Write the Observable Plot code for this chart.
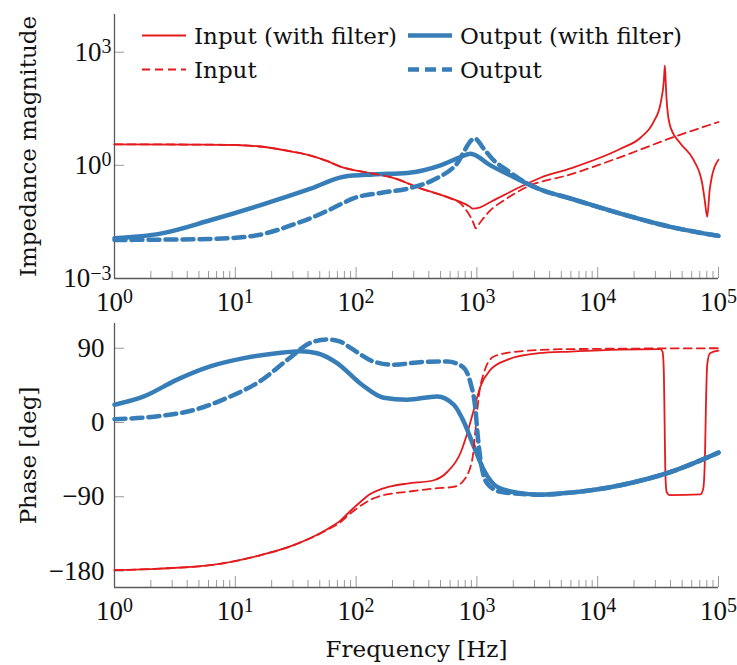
<!DOCTYPE html>
<html><head><meta charset="utf-8">
<script src="https://cdn.jsdelivr.net/npm/d3@7"></script>
<script src="https://cdn.jsdelivr.net/npm/@observablehq/plot@0.6"></script>
<style>
html,body{margin:0;padding:0;background:#fff;}
#chart{position:relative;width:737px;height:665px;overflow:hidden;}
#chart svg{display:block;}
#legend{position:absolute;left:0;top:0;pointer-events:none;}
</style></head><body><div id="chart"></div>
<script>
// ---------- data ----------
// Magnitude panel
const fMagInF = [1, 5, 10, 16, 30, 42, 58, 74, 90, 109, 150, 193, 341, 603, 885, 920, 1050, 1296, 1897, 2296, 3357, 5956, 15450, 22600, 28950, 33100, 35300, 36000, 36800, 37600, 40060, 48450, 62500, 73300, 77000, 80600, 84500, 88000, 100000];
const magInF = [3.6, 3.55, 3.47, 3.16, 2.29, 1.82, 1.29, 0.93, 0.78, 0.69, 0.575, 0.49, 0.245, 0.135, 0.078, 0.071, 0.076, 0.107, 0.20, 0.27, 0.47, 0.83, 2.75, 5.4, 14, 43, 178, 447, 100, 35, 10.2, 3.8, 1.35, 0.33, 0.117, 0.043, 0.22, 0.49, 1.41];

const fMagIn = [1, 5, 10, 16, 30, 42, 58, 74, 90, 109, 150, 193, 341, 603, 731, 832, 885, 943, 973, 1071, 1217, 1782, 2609, 5956, 15450, 40060, 100000];
const magIn = [3.6, 3.55, 3.47, 3.16, 2.29, 1.82, 1.29, 0.93, 0.78, 0.69, 0.575, 0.49, 0.245, 0.132, 0.098, 0.059, 0.043, 0.028, 0.0214, 0.0316, 0.0525, 0.135, 0.27, 0.575, 1.66, 5.25, 14.1];

const fMagOutF = [1, 2.4, 6.2, 16, 42, 79, 139, 265, 500, 731, 885, 1296, 2010, 3357, 5956, 15450, 40060, 100000];
const magOutF = [0.0117, 0.0155, 0.035, 0.087, 0.24, 0.50, 0.575, 0.63, 1.0, 1.66, 2.04, 1.0, 0.49, 0.229, 0.132, 0.0525, 0.0234, 0.0135];

const fMagOut = [1, 3, 6.2, 11.8, 16, 22, 30, 42, 58, 79, 96, 159, 265, 440, 665, 961, 1141, 1381, 1782, 2500, 3357, 5956, 15450, 40060, 100000];
const magOut = [0.0105, 0.0108, 0.0112, 0.0126, 0.0145, 0.019, 0.0269, 0.0398, 0.063, 0.102, 0.135, 0.186, 0.24, 0.417, 1.0, 5.13, 2.75, 1.35, 0.74, 0.355, 0.229, 0.132, 0.0525, 0.0234, 0.0135];

// Phase panel
const fPhInF = [1, 2.4, 6.2, 16, 30, 58, 74, 90, 109, 130, 159, 200, 265, 440, 568, 731, 832, 943, 1071, 1296, 1782, 3253, 5956, 15450, 33100, 34400, 35300, 35800, 36300, 37200, 39500, 71000, 74800, 77300, 78700, 80600, 85000, 100000];
const phInF = [-179, -177, -173, -161, -149, -129, -119, -107, -96, -87, -81, -77, -74, -70, -60, -37, -13, 15.5, 44, 64, 76, 84, 86, 88.4, 89, 86, 60, 0, -60, -84, -88, -87, -80, -40, 20, 70, 84, 87];

const fPhIn = [1, 2.4, 6.2, 16, 30, 58, 74, 90, 109, 130, 159, 200, 265, 440, 644, 779, 915, 973, 1037, 1141, 1381, 2157, 5956, 100000];
const phIn = [-179, -177, -173, -161, -149, -130, -121, -110, -101, -94, -89, -86, -84, -80, -78, -70, -45, -9, 32, 60, 80, 86, 89, 90];

const fPhOutF = [1, 1.75, 3.3, 6.2, 11.8, 22, 34.6, 47.6, 69.6, 109, 169, 265, 469, 644, 779, 943, 1141, 1472, 2157, 3357, 5956, 15450, 40060, 100000];
const phOutF = [21.5, 31.6, 52, 68, 78, 84, 86.5, 84, 72, 47, 30, 27.6, 31.6, 21.5, 1, -29, -57.5, -78, -85, -87.5, -85, -76, -60, -36.5];

const fPhOut = [1, 2.4, 4.5, 8.6, 16, 27, 42, 58, 74, 90, 139, 204, 361, 568, 755, 885, 973, 1017, 1071, 1217, 1568, 2609, 3357, 5956, 15450, 40060, 100000];
const phOut = [4, 8, 15, 30, 50, 76, 96.6, 100.6, 98, 90.5, 74, 70, 73.5, 74, 68, 48, 15.5, -17, -45, -74, -84, -87, -87.5, -85, -76, -60, -36.5];

// ticks and labels
const xMajor = [1, 10, 100, 1000, 10000, 100000];
const xMinor = [2,3,4,5,6,7,8,9,20,30,40,50,60,70,80,90,200,300,400,500,600,700,800,900,2000,3000,4000,5000,6000,7000,8000,9000,20000,30000,40000,50000,60000,70000,80000,90000];
const magTicks = [1e-3, 1, 1e3];
const phTicks = [-180, -90, 0, 90];
const seriesNames = ["Input (with filter)", "Output (with filter)", "Input", "Output"];
const yLabelMag = "Impedance magnitude";
const yLabelPh = "Phase [deg]";
const xLabel = "Frequency [Hz]";

// ---------- style ----------
const RED = "#e41a1c", BLUE = "#377eb8";
const TICK = "#9a9a9a", AXIS = "#5a5a5a";
const TXT = "DejaVu Serif", NUM = "Liberation Serif";
const W = 737, ML = 114, MR = 19;
const frameW = W - ML - MR;

const rows = (fs, vs) => fs.map((f, i) => ({f, v: vs[i]}));
const minus = s => String(s).replace("-", "\u2212");
const expFmt = d => "10^" + minus(Math.round(Math.log10(d)));

function lineMarks(a, b, c, d) {
  return [
    Plot.line(a, {x: "f", y: "v", stroke: RED, strokeWidth: 1.8, curve: "monotone-x"}),
    Plot.line(b, {x: "f", y: "v", stroke: BLUE, strokeWidth: 4.5, curve: "monotone-x"}),
    Plot.line(c, {x: "f", y: "v", stroke: RED, strokeWidth: 1.8, strokeDasharray: "8,5", curve: "monotone-x"}),
    Plot.line(d, {x: "f", y: "v", stroke: BLUE, strokeWidth: 4.5, strokeDasharray: "11,6", curve: "monotone-x"})
  ];
}

function frameMarks(frameH, yTicks, yFmt, yPad, yMin) {
  return [
    Plot.tickX(xMinor, {x: d => d, stroke: TICK, strokeWidth: 1, insetTop: frameH - 7}),
    Plot.tickX(xMajor, {x: d => d, stroke: TICK, strokeWidth: 1, insetTop: frameH - 11}),
    Plot.tickY(yTicks, {y: d => d, stroke: TICK, strokeWidth: 1, insetRight: frameW - 10}),
    Plot.ruleX([1], {stroke: AXIS, strokeWidth: 1.3}),
    Plot.ruleY([yMin], {stroke: AXIS, strokeWidth: 1.3}),
    Plot.axisX(xMajor, {tickSize: 0, tickPadding: 13, tickFormat: expFmt, fontSize: 27, fontFamily: NUM, label: null, fill: "#111"}),
    Plot.axisY(yTicks, {tickSize: 0, tickPadding: yPad, tickFormat: yFmt, fontSize: 27, fontFamily: NUM, label: null, fill: "#111"})
  ];
}

const labelOpts = {frameAnchor: "left", dx: -86, rotate: -90, textAnchor: "middle", lineAnchor: "middle", text: d => d, fontSize: 23, fontFamily: TXT, fill: "#111"};

const H1 = 320, MT1 = 14, MB1 = 42;
const topPlot = Plot.plot({
  width: W, height: H1, marginLeft: ML, marginRight: MR, marginTop: MT1, marginBottom: MB1,
  style: {background: "white"},
  x: {type: "log", domain: [1, 1e5], label: null},
  y: {type: "log", domain: [1e-3, 1e4], label: null},
  marks: [
    ...frameMarks(H1 - MT1 - MB1, magTicks, expFmt, 3, 1e-3),
    Plot.text([yLabelMag], labelOpts),
    ...lineMarks(rows(fMagInF, magInF), rows(fMagOutF, magOutF), rows(fMagIn, magIn), rows(fMagOut, magOut))
  ]
});

const H2 = 345, MT2 = 3, MB2 = 78;
const bottomPlot = Plot.plot({
  width: W, height: H2, marginLeft: ML, marginRight: MR, marginTop: MT2, marginBottom: MB2,
  style: {background: "white"},
  x: {type: "log", domain: [1, 1e5], label: null},
  y: {domain: [-200, 120], label: null},
  marks: [
    ...frameMarks(H2 - MT2 - MB2, phTicks, d => minus(d), 10, -200),
    Plot.text([yLabelPh], labelOpts),
    Plot.text([xLabel], {frameAnchor: "bottom", dy: 69, text: d => d, fontSize: 23, fontFamily: TXT, fill: "#111"}),
    ...lineMarks(rows(fPhInF, phInF), rows(fPhOutF, phOutF), rows(fPhIn, phIn), rows(fPhOut, phOut))
  ]
});

// real superscripts for 10^n tick labels
const NS = "http://www.w3.org/2000/svg";
function superscripts(svg) {
  svg.querySelectorAll("text").forEach(t => {
    const m = /^10\^(.+)$/.exec(t.textContent);
    if (!m) return;
    t.textContent = "10";
    const ts = document.createElementNS(NS, "tspan");
    ts.setAttribute("dy", "-0.38em");
    ts.setAttribute("font-size", "74%");
    ts.textContent = m[1];
    t.appendChild(ts);
  });
}
superscripts(topPlot);
superscripts(bottomPlot);

const chart = document.getElementById("chart");
chart.appendChild(topPlot);
chart.appendChild(bottomPlot);

// legend (overlaid in the top panel)
const leg = d3.select(chart).append("svg").attr("id", "legend").attr("width", W).attr("height", 90);
const legItems = [
  {name: seriesNames[0], color: RED, w: 1.8, dash: null, col: 0, row: 0},
  {name: seriesNames[1], color: BLUE, w: 4.5, dash: null, col: 1, row: 0},
  {name: seriesNames[2], color: RED, w: 1.8, dash: "8,5", col: 0, row: 1},
  {name: seriesNames[3], color: BLUE, w: 4.5, dash: "11,6", col: 1, row: 1}
];
const colX = [142, 408], rowY = [35.5, 69.5];
legItems.forEach(it => {
  const x0 = colX[it.col], y0 = rowY[it.row];
  leg.append("line").attr("x1", x0).attr("x2", x0 + 44).attr("y1", y0).attr("y2", y0)
    .attr("stroke", it.color).attr("stroke-width", it.w).attr("stroke-dasharray", it.dash);
  leg.append("text").attr("x", x0 + 52).attr("y", y0 + 8.2)
    .attr("font-family", TXT).attr("font-size", 23).attr("fill", "#111").text(it.name);
});
</script></body></html>
